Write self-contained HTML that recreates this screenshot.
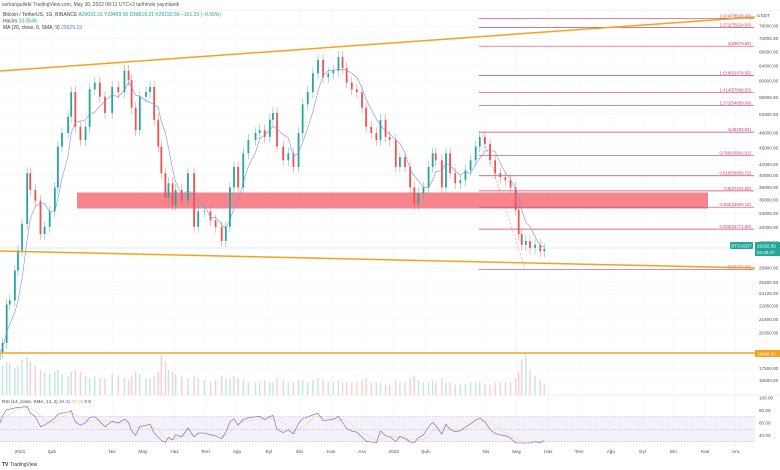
<!DOCTYPE html>
<html><head><meta charset="utf-8"><style>
html,body{margin:0;padding:0;background:#fff;}
svg{display:block;font-family:"Liberation Sans",sans-serif;}
</style></head><body>
<svg id="c" width="780" height="470" viewBox="0 0 780 470" xmlns="http://www.w3.org/2000/svg">
<g id="grid"></g>
<g id="vol"></g>
<rect x="77" y="192.5" width="631" height="16" fill="#f4707a" opacity="0.85"/>
<g id="fib"></g>
<line x1="482" y1="135" x2="526" y2="272" stroke="#e88" stroke-width="0.6" stroke-dasharray="2,2"/>
<g id="candles"></g>
<path id="ma" fill="none" stroke="#7b8ff0" stroke-width="0.6"/>
<line x1="0" y1="71" x2="755" y2="17" stroke="#f7a21b" stroke-width="1.5"/>
<line x1="0" y1="251" x2="755" y2="268" stroke="#f7a21b" stroke-width="1.5"/>
<line x1="0" y1="353" x2="755" y2="353" stroke="#f7a21b" stroke-width="1.5"/>
<line x1="0" y1="248" x2="755" y2="248" stroke="#9ed8d2" stroke-width="0.4"/>
<g id="rsi"></g>
<g id="yaxis"></g>
<g id="xaxis"></g>
<line x1="0" y1="10" x2="780" y2="10" stroke="#e6e6e6" stroke-width="0.5"/>
<text x="2" y="6" font-size="5" fill="#555">serkangullebi TradingView.com, May 30, 2022 08:11 UTC+3 tarihinde yayınlandı</text>
<text x="3" y="16" font-size="5" fill="#444">Bitcoin / TetherUS, 1G, BINANCE <tspan fill="#26a69a">A29031.31  Y29489.00  D28819.21  K29192.56  −161.23 (−0.56%)</tspan></text>
<text x="3" y="22.5" font-size="5" fill="#444">Hacim <tspan fill="#26a69a">23.064K</tspan></text>
<text x="3" y="29" font-size="5" fill="#444">MA (20, close, 0, SMA, 9) <tspan fill="#5b7cf0">29625.19</tspan></text>
<rect x="730" y="242" width="23" height="7" rx="1" fill="#26a69a"/>
<text x="741.5" y="247.3" font-size="4.3" fill="#fff" text-anchor="middle">BTCUSDT</text>
<rect x="755" y="242" width="25" height="14" fill="#26a69a"/>
<text x="757" y="247.5" font-size="4.5" fill="#fff">29192.56</text>
<text x="757" y="254" font-size="4.5" fill="#fff">02:48:47</text>
<rect x="755" y="350" width="25" height="7" fill="#f7a21b"/>
<text x="757" y="355.3" font-size="4.5" fill="#fff">18400.00</text>
<text x="2" y="466" font-size="5" fill="#333" font-weight="bold">TV <tspan font-weight="normal">TradingView</tspan></text>
</svg>
<script>
const days=[-20,-17,-13,-10,-5,-2,2,7,10,15,20,24,29,34,37,41,47,50,54,59,64,68,73,78,83,90,96,102,106,109,113,117,123,127,131,135,138,142,145,149,152,158,164,170,174,180,186,191,197,201,205,209,213,218,223,230,234,239,244,247,251,257,262,267,272,276,281,286,291,296,301,306,311,315,319,324,329,334,338,343,348,352,357,361,367,371,376,381,385,389,394,399,403,406,412,416,420,425,430,435,440,445,449,454,459,464,469,474,479,484,487,490,494,498,503,508,512];
const closes=[18700,19500,23000,23400,26600,29000,32500,40400,37600,35900,31100,32100,34300,38000,45300,48000,51500,57200,49300,46600,49300,57900,59600,56100,52300,58500,57200,62700,60200,53500,48600,56100,57200,58500,50800,45300,40400,36400,38700,35200,37600,35900,40400,32100,34300,34300,33000,32100,30200,32100,38000,41500,38000,44000,46600,48000,48600,47200,50800,52300,45300,42700,44000,41500,48000,54300,57200,62000,65700,61000,62000,62700,66500,63400,59600,57900,57200,53500,49300,48000,46600,50800,47200,46600,41500,43300,41500,38000,35400,37100,38000,41500,44000,42700,38000,44000,40400,38700,39200,40900,42700,45300,47200,45800,42700,40400,39700,39200,38000,34500,31100,29700,30200,29300,29700,28900,29192];
const volumes=[60,70,80,75,65,70,85,90,80,70,60,55,50,55,60,50,45,55,60,55,45,40,45,40,40,50,45,40,35,45,55,50,40,40,45,55,95,80,60,55,50,45,40,45,40,35,30,35,45,40,40,45,40,35,30,30,30,35,30,30,40,35,30,30,35,35,30,35,40,35,30,30,35,30,30,30,30,35,40,30,30,30,25,25,35,30,30,40,45,35,30,30,35,30,40,30,30,25,25,25,30,30,30,25,25,30,30,30,30,40,55,85,100,60,45,35,25];
const priceTicks=[76000,72000,68000,64000,60000,56000,52000,48000,45000,42000,40000,38000,36000,34000,32000,30000,26900,25300,24100,22850,21600,20350,17500,16600];
const timeLabels=["2021","Şub","Nis","May","Haz","Tem","Ağu","Eyl","Eki","Kas","Ara","2022","Şub","Nis","May","Haz","Tem","Ağu","Eyl","Eki","Kas","Ara"];
const timeDays=[0,31,90,120,151,181,212,243,273,304,334,365,396,455,485,516,546,577,608,638,669,699];
const fibLabels=["2.414(78528.40)","2.272(75524.93)","2(69679.68)","1.618(61478.56)","1.414(57096.63)","1.272(54059.08)","1(48189.84)","0.786(43591.01)","0.618(39958.72)","0.5(37444.92)","0.382(34909.12)","0.236(31771.60)","0(26700.00)"];
const fibPrices=[78528.40,75524.93,69679.68,61478.56,57096.63,54059.08,48189.84,43591.01,39958.72,37444.92,34909.12,31771.60,26700.00];
const rsiTicks=[100,80,60,40];

const NS="http://www.w3.org/2000/svg";
function X(d){return 20+d*1.024;}
function Y(p){return 133+(10.779-Math.log(p))*233;}
function RY(r){return 398+(100-r)*0.625;}
function mk(t,a,parent){const e=document.createElementNS(NS,t);for(const k in a)e.setAttribute(k,a[k]);document.getElementById(parent).appendChild(e);return e;}

priceTicks.forEach(p=>{const l=mk('line',{x1:0,x2:755,y1:Y(p),y2:Y(p),stroke:'#f2f3f5','stroke-width':0.5},'grid');

});
timeDays.forEach(d=>{const l=mk('line',{x1:X(d),x2:X(d),y1:11,y2:448,stroke:'#f2f3f5','stroke-width':0.5},'grid');

});

const u=mk('text',{x:757,y:17,'font-size':4.8,fill:'#555'},'yaxis');u.textContent='USDT';
priceTicks.forEach(p=>{const t=mk('text',{x:759,y:Y(p)+1.7,'font-size':4.6,fill:'#555'},'yaxis');


t.textContent=p.toFixed(2);});

timeLabels.forEach((s,i)=>{const t=mk('text',{x:X(timeDays[i]),y:453,'font-size':4.8,fill:'#555','text-anchor':'middle'},'xaxis');


t.textContent=s;});

fibPrices.forEach((p,i)=>{const y=Y(p);
const l=mk('line',{x1:479,x2:754,y1:y,y2:y,stroke:'#d0426f','stroke-width':0.7},'fib');


const t=mk('text',{x:751,y:y-1,'font-size':4.3,fill:'#d0426f','text-anchor':'end'},'fib');


t.textContent=fibLabels[i];});

const vmax=Math.max(...volumes);
closes.forEach((c,i)=>{const o=i?closes[i-1]:c*0.97;const up=c>=o;const col=up?'#26a69a':'#ef5350';
const x=X(days[i]);const hi=Math.max(o,c)*1.025,lo=Math.min(o,c)*0.975;
const w=mk('line',{x1:x,x2:x,y1:Y(hi),y2:Y(lo),stroke:col,'stroke-width':0.4},'candles');


const yt=Y(Math.max(o,c)),yb=Y(Math.min(o,c));
const b=mk('rect',{x:x-0.9,y:yt,width:1.8,height:Math.max(0.6,yb-yt),fill:col},'candles');


const vh=volumes[i]/vmax*42;
const v=mk('rect',{x:x-0.7,y:395-vh,width:1.4,height:vh,fill:up?'#a8dcd6':'#f7b9b7',opacity:0.7},'vol');

});

let d='';closes.forEach((c,i)=>{let s=0,n=0;for(let j=i;j>=0&&days[j]>days[i]-20;j--){s+=closes[j];n++;}
d+=(i?'L':'M')+X(days[i]).toFixed(1)+','+Y(s/n).toFixed(1);});
document.getElementById('ma').setAttribute('d',d);

mk('rect',{x:0,y:RY(70),width:755,height:RY(30)-RY(70),fill:'#ede7f6',opacity:0.6},'rsi');
[70,50,30].forEach(r=>{const l=mk('line',{x1:0,x2:755,y1:RY(r),y2:RY(r),stroke:'#b0a8c8','stroke-width':0.5,'stroke-dasharray':'1.5,1.5'},'rsi');

});
mk('line',{x1:0,x2:780,y1:395,y2:395,stroke:'#e0e0e0','stroke-width':0.5},'rsi');
rsiTicks.forEach(r=>{const t=mk('text',{x:759,y:RY(r)+1.7,'font-size':4.6,fill:'#555'},'rsi');t.textContent=r.toFixed(2);});
const lab=mk('text',{x:2,y:403,'font-size':4.6,fill:'#444'},'rsi');
lab.innerHTML='RSI (14, close, SMA, 14, 2) <tspan fill="#7e57c2">39.31</tspan> <tspan fill="#e0c44a">37.00</tspan> 0 0';
const P=5;let ag=1,al=0.6;const rsi=[];
closes.forEach((c,i)=>{if(!i){rsi.push(60);return;}const ch=Math.log(c/closes[i-1]);const g=Math.max(ch,0),l=Math.max(-ch,0);
ag=(ag*(P-1)+g*100)/P;al=(al*(P-1)+l*100)/P;rsi.push(al===0?80:100-100/(1+ag/al));});
function adj(r){return Math.min(88,Math.max(28,52+(r-50)*0.7));}
let rd='',sd='';rsi.forEach((r,i)=>{const x=X(days[i]).toFixed(1);
rd+=(i?'L':'M')+x+','+RY(adj(r)).toFixed(1);
let s=0,n=0;for(let j=i;j>=0&&j>i-4;j--){s+=adj(rsi[j]);n++;}sd+=(i?'L':'M')+x+','+RY(s/n).toFixed(1);});
const sl=mk('path',{d:sd,fill:'none',stroke:'#f0e08a','stroke-width':0.6},'rsi');


const rl=mk('path',{d:rd,fill:'none',stroke:'#7e57c2','stroke-width':0.6},'rsi');


</script>
</body></html>
